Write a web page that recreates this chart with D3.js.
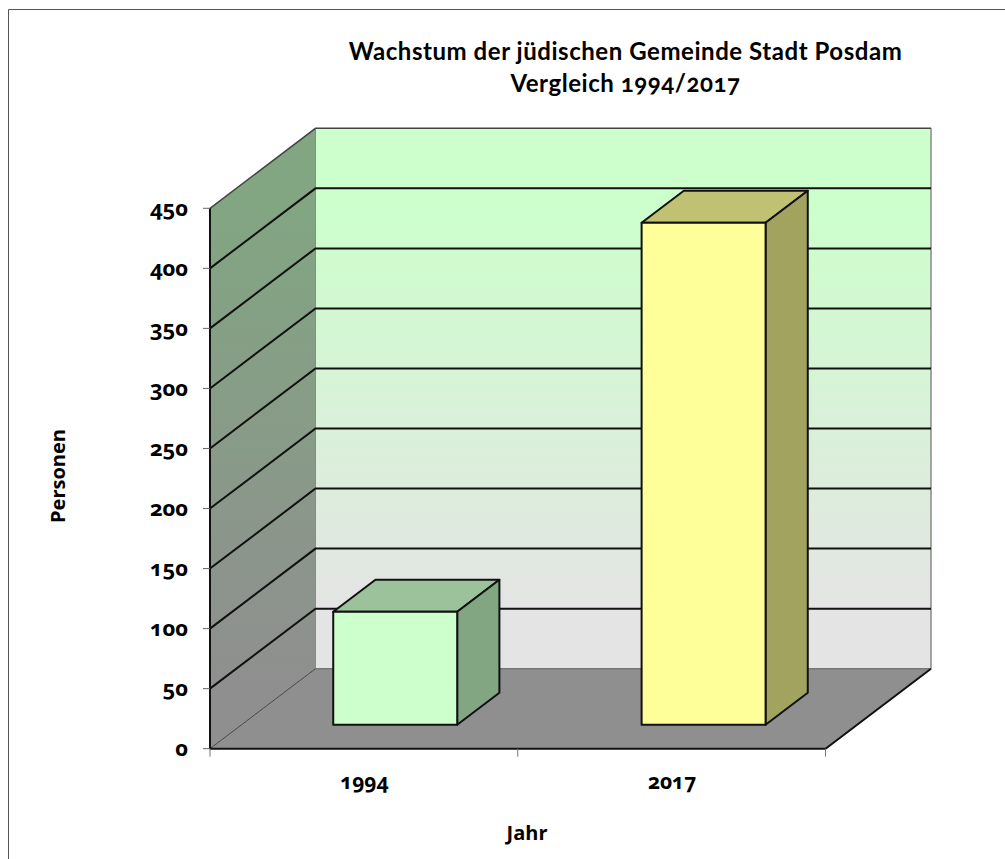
<!DOCTYPE html>
<html><head><meta charset="utf-8">
<script src="https://cdn.jsdelivr.net/npm/d3@7"></script>
<style>html,body{margin:0;background:#fff;overflow:hidden}svg{display:block}
text{font-family:"Open Sans",sans-serif;font-weight:700;fill:#000;font-feature-settings:"onum"}
text.title{font-family:Lato,sans-serif;letter-spacing:.55px}</style>
</head><body><script>
const categories=["1994","2017"];
const values=[94,418];
const yTicks=[0,50,100,150,200,250,300,350,400,450];
const titleLines=["Wachstum der jüdischen Gemeinde Stadt Posdam","Vergleich 1994/2017"];
const W=1005,H=859;
const svg=d3.select("body").append("svg").attr("width",W).attr("height",H);
const y=d3.scaleLinear().domain([0,450]).range([748.7,208.3]);
const x=d3.scaleBand().domain(categories).range([210,825.5]).paddingInner(0.598).paddingOuter(0.297);
const depth=d3.scaleLinear().domain([0,1]).range([0,105.5]);
const rise=d3.scaleLinear().domain([0,1]).range([0,80]);
const defs=svg.append("defs");
function grad(id,stops){const g=defs.append("linearGradient").attr("id",id).attr("x1",0).attr("x2",0).attr("y1",0).attr("y2",1);
 stops.forEach(s=>g.append("stop").attr("offset",s[0]).attr("stop-color",s[1]));}
grad("wall",[[0,"#ccffcc"],[0.14,"#ccffcc"],[0.9,"#e4e4e4"],[1,"#e4e4e4"]]);
grad("side",[[0,"#82a582"],[0.14,"#82a582"],[0.9,"#8f8f8f"],[1,"#8f8f8f"]]);
const line=d3.line();
const D=depth(1),R=rise(1),x0=x.range()[0],x1=x.range()[1];
// frame
svg.append("path").attr("d",line([[8.5,859],[8.5,9.5],[1005,9.5]])).attr("fill","none").attr("stroke","#555");
// walls
svg.append("path").attr("d",line([[x0+D,y(450)-R],[x1+D,y(450)-R],[x1+D,y(0)-R],[x0+D,y(0)-R]])+"Z").attr("fill","url(#wall)").attr("stroke","none");
svg.append("path").attr("d",line([[x0,y(450)],[x0+D,y(450)-R],[x0+D,y(0)-R],[x0,y(0)]])+"Z").attr("fill","url(#side)");
svg.append("path").attr("d",line([[x0,y(0)],[x0+D,y(0)-R],[x1+D,y(0)-R],[x1,y(0)]])+"Z").attr("fill","#8f8f8f");
// edges
svg.append("path").attr("d",line([[x1+D,y(450)-R],[x1+D,y(0)-R]])).attr("stroke","#8a8a8a").attr("stroke-width",1.5).attr("fill","none");
svg.append("path").attr("d",line([[x0+D,y(450)-R],[x0+D,y(0)-R]])).attr("stroke","#8a8a8a").attr("stroke-width",1).attr("fill","none");
svg.append("path").attr("d",line([[x0+D,y(0)-R],[x1+D,y(0)-R]])).attr("stroke","#777").attr("stroke-width",1.5).attr("fill","none");
svg.append("path").attr("d",line([[x0,y(0)],[x0+D,y(0)-R]])).attr("stroke","#444").attr("stroke-width",1).attr("fill","none");
svg.append("path").attr("d",line([[x0,y(450)],[x0+D,y(450)-R],[x1+D,y(450)-R]])).attr("stroke","#444").attr("stroke-width",1.5).attr("fill","none");
// gridlines
yTicks.filter(t=>t>0&&t<450).forEach(t=>{
 svg.append("path").attr("d",line([[x0,y(t)],[x0+D,y(t)-R],[x1+D,y(t)-R]])).attr("fill","none").attr("stroke","#111").attr("stroke-width",2);
});
// bars
const barFill={"1994":["#ccffcc","#9cc29c","#82a582"],"2017":["#ffff99","#c1c174","#a3a360"]};
const offD=0.3,barD=0.4;
categories.forEach((c,i)=>{
 const l=x(c)+depth(offD),r=l+x.bandwidth(),b=y(0)-rise(offD),t=y(values[i])-rise(offD);
 const dx=depth(barD),dy=rise(barD),f=barFill[c];
 const g=svg.append("g").attr("stroke","#111").attr("stroke-width",2).attr("stroke-linejoin","round");
 g.append("path").attr("d",line([[l,t],[l+dx,t-dy],[r+dx,t-dy],[r,t]])+"Z").attr("fill",f[1]);
 g.append("path").attr("d",line([[r,t],[r+dx,t-dy],[r+dx,b-dy],[r,b]])+"Z").attr("fill",f[2]);
 g.append("path").attr("d",line([[l,t],[r,t],[r,b],[l,b]])+"Z").attr("fill",f[0]);
});
// axes
const ax=svg.append("g");
ax.append("path").attr("d",line([[x0,y(450)],[x0,y(0)]])).attr("stroke","#111").attr("stroke-width",2);
ax.append("path").attr("d",line([[x0,y(0)],[x1,y(0)],[x1+D,y(0)-R]])).attr("stroke","#111").attr("stroke-width",2).attr("fill","none");
yTicks.forEach(t=>{
 ax.append("line").attr("x1",x0-7).attr("x2",x0).attr("y1",y(t)).attr("y2",y(t)).attr("stroke","#666");
 ax.append("text").attr("x",x0-22).attr("y",y(t)+7.5).attr("text-anchor","end").attr("font-size",22).text(t);
});
[0,1,2].map(k=>x0+(x1-x0)*k/2).forEach(p=>{
 ax.append("line").attr("x1",p).attr("x2",p).attr("y1",y(0)).attr("y2",y(0)+8).attr("stroke","#777");
});
categories.forEach((c,i)=>{
 ax.append("text").attr("x",x0+(x1-x0)*(i+.5)/2+.5).attr("y",789).attr("text-anchor","middle").attr("font-size",21).text(c);
});
svg.append("text").attr("x",527).attr("y",840).attr("text-anchor","middle").attr("font-size",20).text("Jahr");
svg.append("text").attr("transform","translate(65,476) rotate(-90)").attr("text-anchor","middle").attr("font-size",20).text("Personen");
titleLines.forEach((s,i)=>svg.append("text").attr("class","title").attr("x",625.5).attr("y",60+i*32).attr("text-anchor","middle").attr("font-size",24).text(s));
</script></body></html>
